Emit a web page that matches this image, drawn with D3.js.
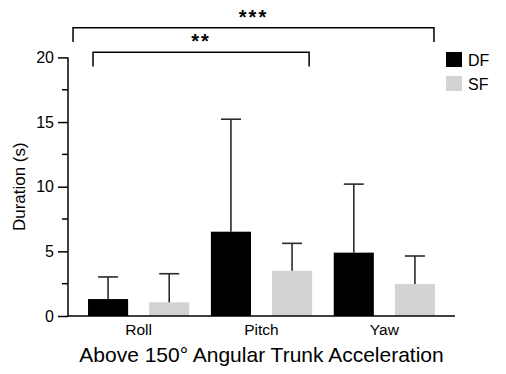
<!DOCTYPE html>
<html lang="en">
<head>
<meta charset="UTF-8">
<title>Above 150° Angular Trunk Acceleration</title>
<script src="https://d3js.org/d3.v7.min.js"></script>
<style>
  body { margin: 0; background: #fff; }
  svg { display: block; font-family: "Liberation Sans", Arial, sans-serif; }
</style>
</head>
<body>
<div id="chart"></div>
<script>
// Mean duration and upper SD per axis, for each group
const categories = ["Roll", "Pitch", "Yaw"];
const groups = ["DF", "SF"];
const dfMeans = [1.31, 6.52, 4.9];
const dfUpper = [3.02, 15.22, 10.2];
const sfMeans = [1.06, 3.5, 2.47];
const sfUpper = [3.27, 5.62, 4.64];
const yTicks = [0, 5, 10, 15, 20];
const yMinorTicks = [2.5, 7.5, 12.5, 17.5];

// significance brackets: from first bar to last bar
const brackets = [
  { from: "Roll", fromGroup: "DF", to: "Yaw", toGroup: "SF", level: 22.3, drop: 21.2, label: "***", dx0: -15, dx1: -1 },
  { from: "Roll", fromGroup: "DF", to: "Pitch", toGroup: "SF", level: 20.4, drop: 19.3, label: "**", dx0: 5, dx1: -3 }
];

const rows = [];
categories.forEach((c, i) => {
  rows.push({ cat: c, group: "DF", mean: dfMeans[i], upper: dfUpper[i] });
  rows.push({ cat: c, group: "SF", mean: sfMeans[i], upper: sfUpper[i] });
});

const W = 506, H = 374;
const margin = { top: 0, left: 68, right: 51, bottom: 58 };

const svg = d3.select("#chart").append("svg")
  .attr("width", W).attr("height", H);

const x0 = d3.scaleBand()
  .domain(categories)
  .range([margin.left, W - margin.right])
  .paddingInner(0.176)
  .paddingOuter(0.163);

const x1 = d3.scaleBand()
  .domain(groups)
  .range([0, x0.bandwidth()])
  .paddingInner(0.344);

const y = d3.scaleLinear()
  .domain([0, 20])
  .range([316, 57.4]);

const color = d3.scaleOrdinal().domain(groups).range(["#000000", "#d3d3d3"]);

// bars
svg.append("g").selectAll("rect")
  .data(rows)
  .join("rect")
  .attr("x", d => x0(d.cat) + x1(d.group))
  .attr("y", d => y(d.mean))
  .attr("width", x1.bandwidth())
  .attr("height", d => y(0) - y(d.mean))
  .attr("fill", d => color(d.group));

// error bars (upper only)
const err = svg.append("g").attr("stroke", "#2a2a2a").attr("stroke-width", 1.6);
rows.forEach(d => {
  const cx = x0(d.cat) + x1(d.group) + x1.bandwidth() / 2;
  err.append("line")
    .attr("x1", cx).attr("x2", cx)
    .attr("y1", y(d.mean)).attr("y2", y(d.upper));
  err.append("line")
    .attr("x1", cx - 10).attr("x2", cx + 10)
    .attr("y1", y(d.upper)).attr("y2", y(d.upper));
});

// y axis with major and minor ticks
const yAxis = svg.append("g")
  .attr("transform", `translate(${margin.left},0)`)
  .call(d3.axisLeft(y).tickValues(yTicks).tickSize(10).tickPadding(4))
  .call(g => g.select(".domain").remove());

yAxis.selectAll("line").attr("stroke", "#000").attr("stroke-width", 1.5);
yAxis.selectAll("text")
  .attr("font-family", "Liberation Sans, Arial, sans-serif")
  .attr("font-size", 16).attr("fill", "#000");

svg.append("g")
  .attr("transform", `translate(${margin.left},0)`)
  .selectAll("line")
  .data(yMinorTicks)
  .join("line")
  .attr("x1", -6).attr("x2", 0)
  .attr("y1", d => y(d)).attr("y2", d => y(d))
  .attr("stroke", "#000").attr("stroke-width", 1.5);

svg.append("line")
  .attr("x1", margin.left).attr("x2", margin.left)
  .attr("y1", y(20)).attr("y2", y(0))
  .attr("stroke", "#000").attr("stroke-width", 1.5);

// x axis baseline and category labels
svg.append("line")
  .attr("x1", margin.left).attr("x2", W - margin.right)
  .attr("y1", y(0)).attr("y2", y(0))
  .attr("stroke", "#000").attr("stroke-width", 1.5);

svg.append("g").selectAll("text")
  .data(categories)
  .join("text")
  .attr("x", d => x0(d) + x0.bandwidth() / 2)
  .attr("y", 335)
  .attr("text-anchor", "middle")
  .attr("font-size", 15.5)
  .text(d => d);

svg.append("text")
  .attr("x", (margin.left + W - margin.right) / 2)
  .attr("y", 362)
  .attr("text-anchor", "middle")
  .attr("font-size", 21)
  .text("Above 150° Angular Trunk Acceleration");

svg.append("text")
  .attr("transform", `translate(25,${(y(0) + y(20)) / 2}) rotate(-90)`)
  .attr("text-anchor", "middle")
  .attr("font-size", 17)
  .text("Duration (s)");

// significance brackets
brackets.forEach(b => {
  const xa = x0(b.from) + x1(b.fromGroup) + b.dx0;
  const xb = x0(b.to) + x1(b.toGroup) + x1.bandwidth() + b.dx1;
  svg.append("path")
    .attr("d", `M${xa},${y(b.drop)}V${y(b.level)}H${xb}V${y(b.drop)}`)
    .attr("fill", "none")
    .attr("stroke", "#000")
    .attr("stroke-width", 1.5);
  svg.append("text")
    .attr("x", (xa + xb) / 2)
    .attr("y", y(b.level) - 4)
    .attr("text-anchor", "middle")
    .attr("font-size", 20)
    .attr("font-weight", "bold")
    .attr("letter-spacing", 2)
    .text(b.label);
});

// legend
const legend = svg.append("g").attr("transform", "translate(446,52)");
groups.forEach((g, i) => {
  const row = legend.append("g").attr("transform", `translate(0,${i * 24})`);
  row.append("rect")
    .attr("width", 16).attr("height", 15)
    .attr("fill", color(g));
  row.append("text")
    .attr("x", 22).attr("y", 14)
    .attr("font-size", 16)
    .text(g);
});
</script>
</body>
</html>
